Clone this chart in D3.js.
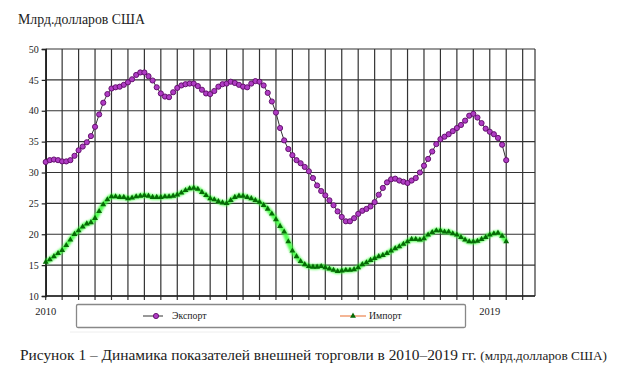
<!DOCTYPE html>
<html>
<head>
<meta charset="utf-8">
<script src="https://cdn.jsdelivr.net/npm/d3@7"></script>
<style>
  body { margin: 0; background: #fff; }
  svg text { font-family: "Liberation Serif", "DejaVu Serif", serif; fill: #222; }
</style>
</head>
<body>
<div id="chart"></div>
<script>
// monthly values, Jan 2010 .. May 2019
var exportVals = [
  31.7, 32.0, 32.1, 32.0, 31.8, 31.8, 32.0, 32.7, 33.6, 34.2, 34.9, 35.9,
  37.4, 39.4, 41.3, 42.7, 43.6, 43.8, 43.9, 44.2, 44.6, 45.1, 45.8, 46.2,
  46.2, 45.6, 44.9, 43.8, 42.8, 42.3, 42.2, 43.0, 43.7, 44.1, 44.3, 44.4,
  44.4, 44.0, 43.4, 42.8, 42.7, 43.2, 43.9, 44.3, 44.4, 44.7, 44.5, 44.2,
  43.9, 43.8, 44.4, 44.8, 44.7, 44.1, 42.9, 41.5, 39.7, 37.2, 35.2, 33.8,
  32.8, 32.0, 31.5, 30.9, 30.2, 29.1, 27.9, 27.0, 26.3, 25.5, 24.7, 23.7,
  22.8, 22.1, 22.1, 22.6, 23.3, 23.8, 24.1, 24.5, 25.2, 26.4, 27.5, 28.4,
  28.9, 29.0, 28.7, 28.5, 28.3, 28.7, 29.1, 30.0, 31.1, 32.2, 33.4, 34.6,
  35.4, 35.8, 36.2, 36.7, 37.2, 37.7, 38.4, 39.2, 39.5, 38.9, 38.0, 37.1,
  36.6, 36.2, 35.6, 34.5, 32.0
];

var importVals = [
  15.5, 15.9, 16.4, 16.9, 17.4, 18.2, 19.1, 20.0, 20.6, 21.2, 21.7, 21.9,
  22.6, 23.7, 24.8, 25.6, 26.1, 26.1, 26.0, 26.0, 25.8, 25.9, 26.1, 26.2,
  26.3, 26.2, 26.0, 26.0, 26.0, 26.1, 26.1, 26.2, 26.4, 26.7, 27.1, 27.4,
  27.5, 27.3, 26.8, 26.3, 25.8, 25.6, 25.3, 25.1, 25.0, 25.5, 26.0, 26.2,
  26.2, 26.0, 25.8, 25.5, 25.2, 24.7, 24.1, 23.3, 22.4, 21.3, 20.4, 18.8,
  17.3, 16.4, 15.6, 15.1, 14.8, 14.7, 14.7, 14.8, 14.6, 14.4, 14.2, 14.0,
  14.1, 14.2, 14.2, 14.3, 14.6, 15.1, 15.4, 15.8, 16.1, 16.4, 16.6, 16.9,
  17.3, 17.7, 18.0, 18.4, 18.8, 19.2, 19.2, 19.1, 19.3, 19.9, 20.3, 20.6,
  20.6, 20.4, 20.4, 20.1, 19.9, 19.5, 19.1, 18.8, 18.8, 18.9, 19.2, 19.5,
  19.9, 20.1, 20.2, 19.7, 18.8
];

var yTicks = [10, 15, 20, 25, 30, 35, 40, 45, 50];
var yearLabels = [{ i: 0, text: "2010" }, { i: 108, text: "2019" }];
var seriesNames = ["Экспорт", "Импорт"];
var unitTitle = "Млрд.долларов США";
var caption = "Рисунок 1 – Динамика показателей внешней торговли в 2010–2019 гг.";
var captionUnit = "(млрд.долларов США)";

var nMonths = 119;
var width = 620,
  height = 378;

var x = d3.scaleLinear().domain([0, nMonths]).range([45.7, 535]);
var y = d3.scaleLinear().domain([10, 50]).range([296, 49]);

var svg = d3.select("#chart").append("svg")
  .attr("width", width)
  .attr("height", height);

// soft glow for the import line
var defs = svg.append("defs");
defs.append("filter")
  .attr("id", "glow")
  .attr("x", "-5%").attr("y", "-20%")
  .attr("width", "110%").attr("height", "140%")
  .append("feGaussianBlur")
  .attr("stdDeviation", 1.2);

// unit title, sized to span the same width as in the source (~127px)
var title = svg.append("text")
  .attr("x", 18)
  .attr("y", 24)
  .style("font-size", "14px")
  .text(unitTitle);
var tw = title.node().getComputedTextLength();
if (tw > 0) title.style("font-size", (14 * 127 / tw).toFixed(2) + "px");

// grid
var grid = svg.append("g").attr("class", "grid");

grid.selectAll(".hline")
  .data(yTicks)
  .enter().append("line")
  .attr("x1", x(0))
  .attr("x2", x(nMonths))
  .attr("y1", function(d) { return y(d); })
  .attr("y2", function(d) { return y(d); })
  .attr("stroke", "#333")
  .attr("stroke-width", 1.2);

var vIdx = d3.range(0, nMonths, 4);

grid.selectAll(".vline")
  .data(vIdx)
  .enter().append("line")
  .attr("x1", function(d) { return x(d); })
  .attr("x2", function(d) { return x(d); })
  .attr("y1", y(50))
  .attr("y2", y(10) + 4)
  .attr("stroke", "#333")
  .attr("stroke-width", 1.2);

// right border
grid.append("line")
  .attr("x1", x(nMonths)).attr("x2", x(nMonths))
  .attr("y1", y(50)).attr("y2", y(10))
  .attr("stroke", "#333")
  .attr("stroke-width", 1.2);

// y axis
var yAxis = svg.append("g")
  .attr("transform", "translate(" + x(0) + ",0)")
  .call(d3.axisLeft(y).tickValues(yTicks).tickSize(4).tickPadding(3));

yAxis.select(".domain").attr("stroke", "#222").attr("stroke-width", 1.6);
yAxis.selectAll(".tick line").attr("stroke", "#222").attr("stroke-width", 1.2);
yAxis.selectAll(".tick text")
  .style("font-family", "Liberation Serif, serif")
  .style("font-size", "10px")
  .attr("fill", "#333");

// bottom axis line
svg.append("line")
  .attr("x1", x(0)).attr("x2", x(nMonths))
  .attr("y1", y(10)).attr("y2", y(10))
  .attr("stroke", "#222")
  .attr("stroke-width", 1.6);

// year labels
svg.selectAll(".year")
  .data(yearLabels)
  .enter().append("text")
  .attr("x", function(d) { return x(d.i); })
  .attr("y", 315)
  .attr("text-anchor", "middle")
  .style("font-size", "10.5px")
  .text(function(d) { return d.text; });

var idx = function(d, i) { return x(i); };

// import: green glow line + triangles
var importLine = d3.line()
  .x(idx)
  .y(function(d) { return y(d); })
  .curve(d3.curveMonotoneX);

svg.append("path")
  .datum(importVals)
  .attr("d", importLine)
  .attr("fill", "none")
  .attr("stroke", "#33ff33")
  .attr("stroke-opacity", 0.85)
  .attr("stroke-width", 5)
  .attr("stroke-linejoin", "round")
  .attr("filter", "url(#glow)");

var tri = d3.symbol().type(d3.symbolTriangle).size(15);

svg.selectAll(".imp")
  .data(importVals)
  .enter().append("path")
  .attr("transform", function(d, i) { return "translate(" + x(i) + "," + y(d) + ")"; })
  .attr("d", tri)
  .attr("fill", "#066b06");

// export: thin line + circles
var exportLine = d3.line()
  .x(idx)
  .y(function(d) { return y(d); });

svg.append("path")
  .datum(exportVals)
  .attr("d", exportLine)
  .attr("fill", "none")
  .attr("stroke", "#333")
  .attr("stroke-width", 1);

svg.selectAll(".exp")
  .data(exportVals)
  .enter().append("circle")
  .attr("cx", function(d, i) { return x(i); })
  .attr("cy", function(d) { return y(d); })
  .attr("r", 2.6)
  .attr("fill", "#b03cc4")
  .attr("stroke", "#5c0a66")
  .attr("stroke-width", 0.9);

// legend
var legend = svg.append("g");

legend.append("rect")
  .attr("x", 76.5)
  .attr("y", 304.5)
  .attr("width", 389)
  .attr("height", 23)
  .attr("rx", 1.5)
  .attr("fill", "#fff")
  .attr("stroke", "#888")
  .attr("stroke-width", 1.3);

var ly = 316;

legend.append("line")
  .attr("x1", 143).attr("x2", 163)
  .attr("y1", ly).attr("y2", ly)
  .attr("stroke", "#333").attr("stroke-width", 1);
legend.append("circle")
  .attr("cx", 156).attr("cy", ly).attr("r", 2.6)
  .attr("fill", "#b03cc4").attr("stroke", "#5c0a66").attr("stroke-width", 0.9);
legend.append("text")
  .attr("x", 172).attr("y", ly + 3)
  .style("font-size", "9.8px")
  .text(seriesNames[0]);

legend.append("line")
  .attr("x1", 340).attr("x2", 366)
  .attr("y1", ly).attr("y2", ly)
  .attr("stroke", "#f2a27a").attr("stroke-width", 1.6);
legend.append("path")
  .attr("transform", "translate(353," + ly + ")")
  .attr("d", tri)
  .attr("fill", "#066b06");
legend.append("text")
  .attr("x", 369).attr("y", ly + 3)
  .style("font-size", "9.8px")
  .text(seriesNames[1]);

// faint separator line
svg.append("line")
  .attr("x1", 70).attr("x2", 400)
  .attr("y1", 332).attr("y2", 332)
  .attr("stroke", "#eee");

// caption
var cap = svg.append("text")
  .attr("x", 20)
  .attr("y", 360)
  .style("font-size", "15.4px");
cap.append("tspan").text(caption + " ");
cap.append("tspan").style("font-size", "13.2px").text(captionUnit);
</script>
</body>
</html>
